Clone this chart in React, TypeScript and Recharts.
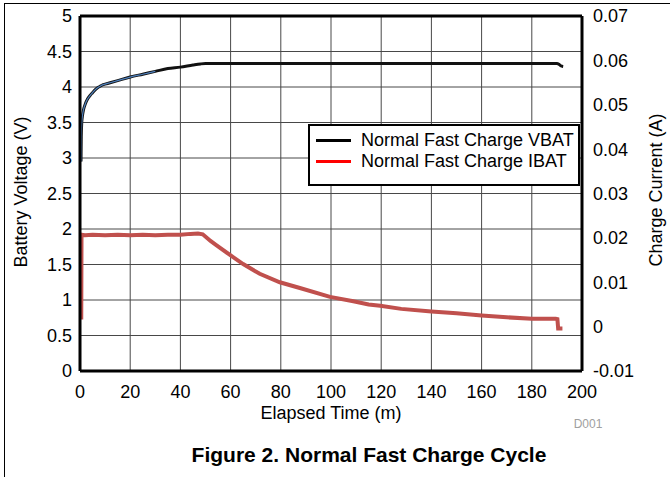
import React from 'react';
import {
  ComposedChart,
  Line,
  XAxis,
  YAxis,
  ReferenceLine,
  Legend,
} from 'recharts';

const FONT = '"Liberation Sans", Arial, Helvetica, sans-serif';

// Elapsed time axis (minutes)
const elapsedTicks = [0, 20, 40, 60, 80, 100, 120, 140, 160, 180, 200];
const voltageTicks = [0, 0.5, 1, 1.5, 2, 2.5, 3, 3.5, 4, 4.5, 5];
const currentTicks = [-0.01, 0, 0.01, 0.02, 0.03, 0.04, 0.05, 0.06, 0.07];

// VBAT trace (V)
const vbatTime = [
  0.4, 0.5, 0.7, 1, 1.4, 2.1, 3, 4, 5, 6, 7, 8, 9, 10, 12, 15, 20, 25, 30, 35,
  40, 45, 48, 50, 60, 80, 100, 120, 140, 160, 180, 190, 190.8, 191.5, 192.5,
];
const vbatVolts = [
  2.95, 3.3, 3.5, 3.6, 3.68, 3.76, 3.83, 3.88, 3.92, 3.96, 3.99, 4.01, 4.03,
  4.04, 4.06, 4.09, 4.14, 4.18, 4.22, 4.26, 4.28, 4.31, 4.325, 4.33, 4.33, 4.33,
  4.33, 4.33, 4.33, 4.33, 4.33, 4.33, 4.32, 4.3, 4.29,
];

// IBAT trace (A)
const ibatTime = [
  0.5, 0.6, 2, 5, 10, 15, 20, 25, 30, 35, 40, 44, 47, 48.9, 52, 54, 59.6, 65,
  71.6, 79.6, 87.6, 99.6, 108.9, 115, 119.6, 128, 140, 150, 160, 170, 180,
  189.5, 190.2, 190.5, 192.2,
];
const ibatAmps = [
  0.0016, 0.0207, 0.0206, 0.0207, 0.0206, 0.0207, 0.0206, 0.0207, 0.0206,
  0.0207, 0.0207, 0.0209, 0.021, 0.0208, 0.0193, 0.0185, 0.0162, 0.0141,
  0.0119, 0.01, 0.0087, 0.0067, 0.0057, 0.005, 0.0047, 0.004, 0.0034, 0.003,
  0.0025, 0.0021, 0.0018, 0.0018, 0.0017, -0.0004, -0.0004,
];

const legendItems = [
  { name: 'Normal Fast Charge VBAT', color: '#000000' },
  { name: 'Normal Fast Charge IBAT', color: '#ff0000' },
];

const vbatData = vbatTime.map((t, i) => ({ t, v: vbatVolts[i] }));
const ibatData = ibatTime.map((t, i) => ({ t, v: ibatAmps[i] }));
// the blue under-trace only shows through on the early part of the curve
const vbatEarly = vbatData.filter((d) => d.t <= 32);

const tickStyle = { fontSize: 18, fill: '#000', fontFamily: FONT };
const GRID = '#484848';

const fmtCurrent = (v: number) => String(Number(v.toFixed(2)));

const ChartLegend = () => (
  <div
    style={{
      width: 268,
      height: 58,
      border: '2px solid #000',
      background: '#fff',
      boxSizing: 'content-box',
      fontFamily: FONT,
      fontSize: 18,
      color: '#000',
    }}
  >
    {legendItems.map((item, i) => (
      <div
        key={item.name}
        style={{
          position: 'absolute',
          left: 8,
          top: 6 + i * 21,
          height: 20,
          display: 'flex',
          alignItems: 'center',
          whiteSpace: 'nowrap',
        }}
      >
        <span
          style={{
            display: 'inline-block',
            width: 35,
            height: 3,
            background: item.color,
            marginRight: 10,
          }}
        />
        <span>{item.name}</span>
      </div>
    ))}
  </div>
);

export default function App() {
  return (
    <div
      style={{
        position: 'absolute',
        left: 0,
        top: 0,
        width: 670,
        height: 477,
        background: '#fff',
        overflow: 'hidden',
        fontFamily: FONT,
      }}
    >
      {/* figure frame */}
      <div
        style={{
          position: 'absolute',
          left: 4,
          top: 3,
          width: 700,
          height: 500,
          borderLeft: '1px solid #000',
          borderTop: '1px solid #000',
        }}
      />
      <ComposedChart
        width={670}
        height={401}
        margin={{ top: 16, right: 0, bottom: 0, left: 0 }}
        style={{ position: 'absolute', left: 0, top: 0 }}
      >
        <XAxis
          dataKey="t"
          type="number"
          domain={[0, 200]}
          ticks={elapsedTicks}
          allowDataOverflow
          height={30}
          tickLine={false}
          tickSize={6}
          tickMargin={8}
          axisLine={{ stroke: '#000', strokeWidth: 3 }}
          tick={tickStyle}
          interval={0}
        />
        <YAxis
          yAxisId="left"
          orientation="left"
          type="number"
          domain={[0, 5]}
          ticks={voltageTicks}
          width={80}
          tickLine={false}
          tickSize={6}
          tickMargin={2}
          axisLine={{ stroke: '#000', strokeWidth: 3 }}
          tick={tickStyle}
          interval={0}
        />
        <YAxis
          yAxisId="right"
          orientation="right"
          type="number"
          domain={[-0.01, 0.07]}
          ticks={currentTicks}
          width={88}
          tickLine={false}
          tickSize={6}
          tickMargin={5}
          axisLine={{ stroke: '#000', strokeWidth: 3 }}
          tick={tickStyle}
          tickFormatter={fmtCurrent}
          interval={0}
        />
        {/* grid */}
        {voltageTicks.slice(1, -1).map((v) => (
          <ReferenceLine key={`h${v}`} yAxisId="left" y={v} stroke={GRID} strokeWidth={1} />
        ))}
        {elapsedTicks.slice(1, -1).map((t) => (
          <ReferenceLine key={`v${t}`} yAxisId="left" x={t} stroke={GRID} strokeWidth={1} />
        ))}
        <ReferenceLine yAxisId="left" y={5} stroke="#000" strokeWidth={3} />
        <Line
          yAxisId="right"
          data={ibatData}
          dataKey="v"
          type="linear"
          stroke="#c0504d"
          strokeWidth={4}
          dot={false}
          isAnimationActive={false}
          legendType="none"
        />
        <Line
          yAxisId="left"
          data={vbatData}
          dataKey="v"
          type="monotone"
          stroke="#111"
          strokeWidth={3}
          dot={false}
          isAnimationActive={false}
          legendType="none"
        />
        <Line
          yAxisId="left"
          data={vbatEarly}
          dataKey="v"
          type="monotone"
          stroke="#4f81bd"
          strokeWidth={1.2}
          dot={false}
          isAnimationActive={false}
          legendType="none"
        />
        <Legend
          layout="vertical"
          align="center"
          verticalAlign="middle"
          wrapperStyle={{ left: 308, top: 124, width: 272, height: 62 }}
          content={() => <ChartLegend />}
        />
      </ComposedChart>

      {/* axis titles */}
      <div
        style={{
          position: 'absolute',
          left: 21,
          top: 192,
          transform: 'translate(-50%, -50%) rotate(-90deg)',
          fontSize: 18,
          whiteSpace: 'nowrap',
        }}
      >
        Battery Voltage (V)
      </div>
      <div
        style={{
          position: 'absolute',
          left: 656,
          top: 190,
          transform: 'translate(-50%, -50%) rotate(-90deg)',
          fontSize: 18,
          whiteSpace: 'nowrap',
        }}
      >
        Charge Current (A)
      </div>
      <div
        style={{
          position: 'absolute',
          left: 331,
          top: 413,
          transform: 'translate(-50%, -50%)',
          fontSize: 18,
          whiteSpace: 'nowrap',
        }}
      >
        Elapsed Time (m)
      </div>
      <div
        style={{
          position: 'absolute',
          left: 588,
          top: 424,
          transform: 'translate(-50%, -50%)',
          fontSize: 12,
          color: '#a0a0a0',
        }}
      >
        D001
      </div>
      <div
        style={{
          position: 'absolute',
          left: 369,
          top: 455,
          transform: 'translate(-50%, -50%)',
          fontSize: 21,
          fontWeight: 'bold',
          whiteSpace: 'nowrap',
        }}
      >
        Figure 2. Normal Fast Charge Cycle
      </div>
    </div>
  );
}
